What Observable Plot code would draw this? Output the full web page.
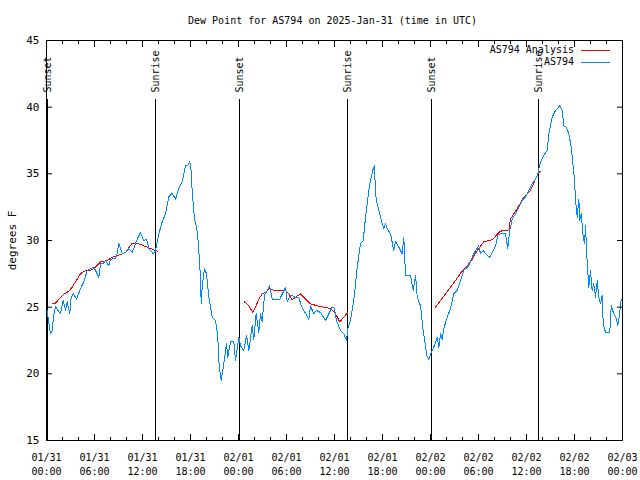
<!DOCTYPE html>
<html><head><meta charset="utf-8">
<script src="https://cdn.jsdelivr.net/npm/d3@7"></script>
<script src="https://cdn.jsdelivr.net/npm/@observablehq/plot@0.6"></script>
<style>
body{margin:0;background:#fff}
#chart svg{display:block}
</style>
</head><body><div id="chart"></div>
<script>
const title = "Dew Point for AS794 on 2025-Jan-31 (time in UTC)";
const yLabel = "degrees F";
const seriesNames = ["AS794 Analysis", "AS794"];
const seriesColors = ["#ff0000", "#0088ff"];
const startTime = "2025-01-31T00:00:00Z";
const endTime = "2025-02-03T00:00:00Z";
const yDomain = [15, 45];
const yTicks = [15, 20, 25, 30, 35, 40, 45];
const eventTimes = ["2025-01-31T00:07:00Z", "2025-01-31T13:37:00Z", "2025-02-01T00:07:00Z",
  "2025-02-01T13:37:00Z", "2025-02-02T00:07:00Z", "2025-02-02T13:33:00Z"];
const eventLabels = ["Sunset", "Sunrise", "Sunset", "Sunrise", "Sunset", "Sunrise"];
const eventLineTop = 40.55;
const eventLabelBase = 41.1;

// observed dew point (hours since start, degrees F)
const obsHours = [0,0.25,0.5,0.71,0.88,1.13,1.38,1.75,2.09,2.38,2.59,2.91,3.09,3.38,3.75,4.0,4.34,4.63,5.09,5.5,5.91,6.25,6.54,6.75,7.13,7.38,7.79,8.0,8.63,8.81,9.04,9.46,9.88,10.29,10.71,11.34,11.75,12.16,12.5,12.79,13.21,13.38,13.63,13.84,14.04,14.46,14.88,15.29,15.71,16.13,16.54,16.96,17.38,17.63,17.91,18.06,18.21,18.5,18.75,18.91,19.16,19.34,19.46,19.75,20.0,20.29,20.71,21.13,21.41,21.59,21.84,22.16,22.5,22.66,23.0,23.41,23.63,24.04,24.25,24.66,25.0,25.29,25.71,25.91,26.21,26.54,26.75,26.96,27.25,27.59,27.88,28.21,29.16,29.88,30.09,30.5,31.13,31.54,31.84,32.16,32.79,33.0,33.41,33.75,34.25,34.88,35.29,35.71,36.0,36.25,36.75,37.16,37.5,37.66,38.0,38.41,38.84,39.25,39.59,39.88,40.29,40.5,40.84,41.0,41.13,41.34,41.54,41.96,42.16,42.38,42.59,43.0,43.41,43.63,44.04,44.46,44.66,44.88,45.5,45.84,46.13,46.34,46.75,47.09,47.38,47.59,47.79,48.09,48.41,48.84,49.04,49.25,49.46,49.66,50.09,50.5,50.91,51.34,51.75,52.16,52.59,52.79,53.21,53.63,54.04,54.25,54.59,54.88,55.41,55.71,56.13,56.41,56.75,57.38,57.66,57.91,58.21,58.63,59.04,59.46,59.88,60.29,60.71,61.13,61.41,61.75,62.16,62.59,62.79,63.21,63.63,64.16,64.46,64.66,65.0,65.29,65.59,65.84,66.0,66.13,66.34,66.54,66.66,66.84,67.09,67.25,67.38,67.59,67.79,68.0,68.21,68.41,68.63,68.84,69.04,69.25,69.46,69.59,69.88,70.41,70.59,70.91,71.25,71.41,71.66,71.84,72.0];
const obsValues = [25.1,24.0,23.0,23.25,24.3,25.05,24.8,24.5,25.5,24.75,25.4,24.5,25.75,26.0,25.6,26.0,26.5,26.85,27.75,27.9,28.0,27.6,27.25,28.25,28.3,28.5,28.1,28.6,28.65,29.0,29.75,29.0,29.1,29.4,29.1,30.1,30.6,30.0,30.1,29.4,29.1,29.0,29.25,29.9,30.5,31.4,32.0,33.3,33.55,33.1,33.9,34.4,35.6,35.6,35.9,35.3,33.75,31.6,31.0,30.25,28.25,25.3,26.5,27.9,27.5,25.75,24.25,24.0,22.75,20.5,19.5,20.75,22.25,21.25,22.4,22.4,21.0,22.75,22.1,21.75,22.9,21.75,23.6,22.6,24.5,23.1,24.5,23.9,25.9,26.25,26.6,25.6,25.6,26.5,25.4,25.9,25.75,25.75,25.1,24.75,24.1,25.1,24.5,24.75,24.6,24.0,24.5,25.0,24.9,24.0,23.25,23.0,22.5,23.4,24.0,25.5,28.0,29.75,30.0,31.75,33.75,34.5,35.4,35.6,33.5,32.75,32.25,31.25,30.9,31.25,30.9,30.5,29.25,29.9,29.5,29.0,30.25,27.4,27.4,26.25,27.4,25.75,25.1,23.25,22.0,21.25,21.1,21.6,22.0,22.75,22.0,23.0,22.6,23.4,24.25,24.9,26.0,26.25,27.0,27.75,28.0,28.1,28.75,29.25,29.6,29.0,29.25,29.0,28.75,29.1,29.6,30.4,30.5,30.5,29.4,30.75,31.6,32.0,32.5,33.0,33.25,33.75,34.25,34.6,35.0,35.9,36.4,36.75,38.0,39.25,39.75,40.1,39.75,38.6,38.5,38.0,37.0,35.5,34.5,33.0,31.75,33.1,31.5,32.0,30.25,29.75,31.1,28.25,26.5,27.75,26.25,26.75,25.75,27.0,25.75,25.25,25.9,23.75,23.1,23.1,25.1,24.5,24.1,23.6,24.6,25.6,25.6];

// analysis dew point (null marks a gap)
const anaHours = [0.71,1.13,1.75,2.25,2.79,3.21,3.84,4.25,4.66,5.5,6.13,6.75,7.59,8.21,9.04,9.88,10.71,11.34,12.16,12.79,13.41,13.91,
  18.0,
  24.75,25.29,25.79,26.13,26.54,26.96,27.38,27.88,28.41,29.88,30.29,30.71,31.13,31.75,32.38,33.0,33.84,34.66,35.5,36.13,36.66,37.16,37.66,
  42.0,
  48.63,49.25,49.88,50.5,51.13,51.75,52.59,53.21,53.84,54.66,55.71,56.25,56.75,57.79,58.0,58.84,59.66,60.5,61.13,61.54,61.75];
const anaValues = [25.25,25.3,25.75,26.0,26.2,26.5,27.1,27.5,27.7,27.75,28.0,28.4,28.5,28.75,28.9,29.1,29.8,29.8,29.6,29.45,29.3,29.2,
  null,
  25.4,25.1,24.6,25.0,25.6,26.0,26.1,26.4,26.25,26.25,26.0,25.55,25.75,26.0,25.6,25.25,25.1,25.0,24.9,24.5,23.9,24.25,24.6,
  null,
  25.0,25.5,26.0,26.5,27.0,27.55,28.1,28.6,29.25,29.9,30.05,30.4,30.7,30.8,31.6,32.4,33.25,33.75,34.6,35.1,35.2];

const t0 = new Date(startTime).getTime();
const toDate = h => new Date(t0 + h * 3600e3);
const obs = obsHours.map((h, i) => ({time: toDate(h), value: obsValues[i]}));
const ana = anaHours.map((h, i) => ({time: toDate(h), value: anaValues[i] == null ? NaN : anaValues[i]}));
const events = eventTimes.map((t, i) => ({time: new Date(t), label: eventLabels[i]}));
const xDomain = [new Date(startTime), new Date(endTime)];
const major = d3.utcHour.every(6).range(xDomain[0], new Date(xDomain[1].getTime() + 1));
const minor = d3.utcHour.every(2).range(xDomain[0], new Date(xDomain[1].getTime() + 1));
const fmtDate = d3.utcFormat("%m/%d"), fmtTime = d3.utcFormat("%H:%M");

const font = "'DejaVu Sans Mono', monospace";
const plot = Plot.plot({
  width: 640, height: 480,
  marginLeft: 46, marginRight: 18, marginTop: 40, marginBottom: 40,
  style: {fontFamily: font, fontSize: "10px", background: "#fff", color: "#000", overflow: "visible"},
  x: {type: "utc", domain: xDomain},
  y: {domain: yDomain},
  marks: [
    Plot.ruleX(events, {x: "time", y1: yDomain[0], y2: eventLineTop, stroke: "#000", strokeWidth: 1, shapeRendering: "crispEdges"}),
    Plot.text(events, {x: "time", y: eventLabelBase, text: "label", rotate: -90, textAnchor: "start", lineAnchor: "middle", fill: "#000"}),
    Plot.line(ana, {x: "time", y: "value", stroke: seriesColors[0], strokeWidth: 1, shapeRendering: "crispEdges"}),
    Plot.line(obs, {x: "time", y: "value", stroke: seriesColors[1], strokeWidth: 1, shapeRendering: "crispEdges"}),
    Plot.axisY({ticks: yTicks, tickSize: 0, tickPadding: 7, label: yLabel, labelAnchor: "center", labelArrow: "none", labelOffset: 38, fontSize: 11}),
    Plot.axisY({ticks: yTicks, tickSize: -6, fill: "none", label: null}),
    Plot.axisY({anchor: "right", ticks: yTicks, tickSize: -6, fill: "none", label: null}),
    Plot.axisX({ticks: major, tickSize: 0, tickPadding: 11, lineHeight: 1.4, tickFormat: d => fmtDate(d) + "\n" + fmtTime(d), label: null}),
    Plot.axisX({ticks: major, tickSize: -6, fill: "none", label: null}),
    Plot.axisX({ticks: minor, tickSize: -3, fill: "none", label: null}),
    Plot.axisX({anchor: "top", ticks: major, tickSize: -6, fill: "none", label: null}),
    Plot.axisX({anchor: "top", ticks: minor, tickSize: -3, fill: "none", label: null}),
    Plot.frame({stroke: "#000", strokeWidth: 1, shapeRendering: "crispEdges"}),
    Plot.text([title], {frameAnchor: "top", dy: -20, dx: -2, lineAnchor: "middle", fill: "#000"})
  ]
});

// legend inside the plot, top-right
const svgSel = d3.select(plot);
const plotRight = 640 - 18, plotTop = 40;
seriesNames.forEach((name, i) => {
  const ly = plotTop + 10 + i * 12;
  svgSel.append("text").attr("x", plotRight - 48).attr("y", ly).attr("dy", "0.32em")
    .attr("text-anchor", "end").attr("font-family", font).attr("font-size", 10).attr("fill", "#000").text(name);
  svgSel.append("line").attr("x1", plotRight - 41).attr("x2", plotRight - 12).attr("y1", ly).attr("y2", ly)
    .attr("stroke", seriesColors[i]).attr("stroke-width", 1).attr("shape-rendering", "crispEdges");
});
document.getElementById("chart").appendChild(plot);
</script>
</body></html>
